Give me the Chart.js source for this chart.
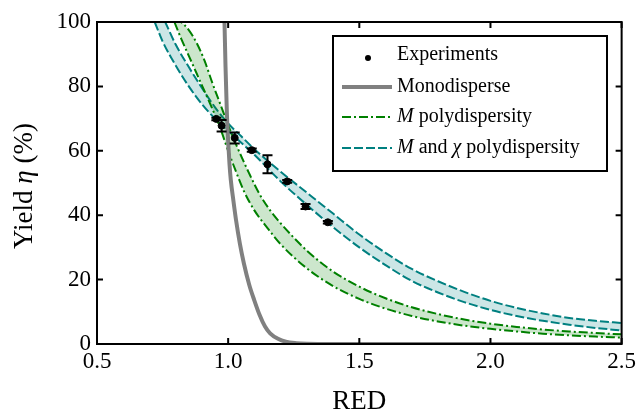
<!DOCTYPE html>
<html>
<head>
<meta charset="utf-8">
<script src="https://cdn.jsdelivr.net/npm/chart.js@4.4.0/dist/chart.umd.min.js"></script>
<style>
  html, body { margin: 0; padding: 0; background: #fff; }
  #wrap { width: 640px; height: 418px; }
</style>
</head>
<body>
<div id="wrap"><canvas id="chartYield"></canvas></div>
<script>
// experiments
const expRED   = [0.955, 0.975, 1.025, 1.09, 1.15, 1.225, 1.295, 1.38];
const expYield = [69.9, 67.8, 64.0, 60.2, 55.8, 50.5, 42.7, 37.8];
const expErr   = [0.4, 1.8, 1.7, 0.5, 2.8, 0.4, 0.8, 0.4];

// monodisperse model
const monoRED   = [0.986, 0.99, 0.995, 1.0, 1.005, 1.01, 1.02, 1.03, 1.045, 1.06, 1.08, 1.1, 1.12, 1.14, 1.16, 1.19, 1.22, 1.26, 1.3, 1.4, 2.5];
const monoYield = [100, 86, 72, 63, 56, 51, 44.5, 38.5, 31, 25, 18.5, 13.5, 9, 5.5, 3.3, 1.6, 0.7, 0.25, 0.08, 0, 0];

// M polydispersity band
const mUpRED    = [0.795, 0.82, 0.85, 0.88, 0.91, 0.94, 0.97, 1.0, 1.03, 1.08, 1.12, 1.16, 1.2, 1.3, 1.4, 1.5, 1.6, 1.7, 1.8, 1.9, 2.0, 2.1, 2.2, 2.3, 2.4, 2.5];
const mUpYield  = [101, 100, 97.5, 93.5, 88, 81, 74.5, 68, 62, 53, 46.5, 41.5, 37.5, 29, 22.5, 17.8, 14.2, 11.4, 9.3, 7.6, 6.3, 5.3, 4.5, 3.9, 3.4, 3.0];
const mLoRED    = [0.795, 0.82, 0.85, 0.88, 0.91, 0.94, 0.97, 1.0, 1.03, 1.06, 1.1, 1.15, 1.2, 1.3, 1.4, 1.5, 1.6, 1.7, 1.8, 1.9, 2.0, 2.1, 2.2, 2.3, 2.4, 2.5];
const mLoYield  = [100, 95, 89.5, 84, 78.5, 73, 67, 60, 53.5, 47.5, 41.5, 36, 31, 23.5, 18, 14, 11, 8.7, 7, 5.7, 4.7, 3.9, 3.2, 2.7, 2.3, 2.0];

// M and chi polydispersity band
const mcUpRED   = [0.72, 0.76, 0.80, 0.85, 0.90, 0.95, 1.0, 1.05, 1.1, 1.2, 1.3, 1.4, 1.5, 1.6, 1.7, 1.8, 1.9, 2.0, 2.1, 2.2, 2.3, 2.4, 2.5];
const mcUpYield = [107, 100, 93, 86, 79.5, 73.5, 68.5, 64.5, 60.5, 53.5, 47, 40.5, 34, 28.3, 23.3, 19.5, 16.2, 13.4, 11.2, 9.5, 8.1, 7.2, 6.5];
const mcLoRED   = [0.72, 0.75, 0.80, 0.85, 0.90, 0.95, 1.0, 1.05, 1.1, 1.2, 1.3, 1.4, 1.5, 1.6, 1.7, 1.8, 1.9, 2.0, 2.1, 2.2, 2.3, 2.4, 2.5];
const mcLoYield = [100, 94, 86.5, 80, 74.5, 70, 66.2, 62.5, 58.8, 50.5, 43.2, 36.3, 30, 24.5, 19.6, 16, 13, 10.6, 8.7, 7.2, 6.0, 5.0, 4.2];

const xTickValues = [0.5, 1.0, 1.5, 2.0, 2.5];
const yTickValues = [0, 20, 40, 60, 80, 100];

const pts = (xs, ys) => xs.map((x, i) => ({x: x, y: ys[i]}));
const SERIF = '"Liberation Serif", "DejaVu Serif", serif';
const GREEN = '#008000', TEAL = '#008080', GRAY = '#808080';
const DASHDOT = [9, 3, 2, 3];
const DASH = [9, 3];

const lineDs = (data, color, dash, width, fill, fillColor) => ({
  data: data, showLine: true, borderColor: color, borderWidth: width, borderDash: dash,
  pointRadius: 0, cubicInterpolationMode: 'monotone', fill: fill, backgroundColor: fillColor
});

// error bars drawn through the scales
const errorBars = {
  id: 'errorBars',
  afterDatasetsDraw(chart) {
    const {ctx, scales: {x, y}} = chart;
    ctx.save();
    ctx.strokeStyle = '#000';
    ctx.lineWidth = 2;
    expRED.forEach((r, i) => {
      const px = x.getPixelForValue(r);
      const top = y.getPixelForValue(expYield[i] + expErr[i]);
      const bot = y.getPixelForValue(expYield[i] - expErr[i]);
      ctx.beginPath();
      ctx.moveTo(px, top); ctx.lineTo(px, bot);
      ctx.moveTo(px - 5, top); ctx.lineTo(px + 5, top);
      ctx.moveTo(px - 5, bot); ctx.lineTo(px + 5, bot);
      ctx.stroke();
    });
    ctx.restore();
  }
};

// box frame with inward ticks on all sides
const frame = {
  id: 'frame',
  afterDatasetsDraw(chart) {
    const {ctx, chartArea: a, scales: {x, y}} = chart;
    ctx.save();
    ctx.strokeStyle = '#000';
    ctx.lineWidth = 2;
    ctx.beginPath();
    x.ticks.forEach(t => {
      const p = x.getPixelForValue(t.value);
      ctx.moveTo(p, a.bottom); ctx.lineTo(p, a.bottom - 6);
      ctx.moveTo(p, a.top); ctx.lineTo(p, a.top + 6);
    });
    y.ticks.forEach(t => {
      const p = y.getPixelForValue(t.value);
      ctx.moveTo(a.left, p); ctx.lineTo(a.left + 6, p);
      ctx.moveTo(a.right, p); ctx.lineTo(a.right - 6, p);
    });
    ctx.stroke();
    ctx.strokeRect(a.left, a.top, a.right - a.left, a.bottom - a.top);
    ctx.restore();
  }
};

function drawRuns(ctx, runs, x, y, size) {
  runs.forEach(r => {
    ctx.font = (r[1] ? 'italic ' : '') + size + 'px ' + SERIF;
    ctx.fillText(r[0], x, y);
    x += ctx.measureText(r[0]).width;
  });
  return x;
}

const legendBox = {
  id: 'legendBox',
  afterDraw(chart) {
    const ctx = chart.ctx;
    ctx.save();
    // y axis title with italic eta
    ctx.fillStyle = '#000';
    ctx.textBaseline = 'middle';
    ctx.translate(25, 186);
    ctx.rotate(-Math.PI / 2);
    const yTitle = [['Yield ', false], ['η', true], [' (%)', false]];
    let w = 0;
    yTitle.forEach(r => { ctx.font = (r[1] ? 'italic ' : '') + '27px ' + SERIF; w += ctx.measureText(r[0]).width; });
    drawRuns(ctx, yTitle, -w / 2, 0, 27);
    ctx.restore();

    ctx.save();
    const L = 333, T = 36, R = 607, B = 171;
    ctx.fillStyle = '#fff';
    ctx.fillRect(L, T, R - L, B - T);
    ctx.strokeStyle = '#000';
    ctx.lineWidth = 2;
    ctx.strokeRect(L, T, R - L, B - T);
    const rows = [55, 87, 117, 148];
    const sx0 = 342, sx1 = 392, tx = 397;
    // experiments dot
    ctx.fillStyle = '#000';
    ctx.beginPath(); ctx.arc(368, rows[0] + 3, 3, 0, Math.PI * 2); ctx.fill();
    const seg = (yy, color, dash, width) => {
      ctx.strokeStyle = color; ctx.lineWidth = width; ctx.setLineDash(dash);
      ctx.beginPath(); ctx.moveTo(sx0, yy); ctx.lineTo(sx1, yy); ctx.stroke();
    };
    seg(rows[1], GRAY, [], 4);
    seg(rows[2], GREEN, DASHDOT, 2);
    seg(rows[3], TEAL, DASH, 2);
    ctx.setLineDash([]);
    ctx.fillStyle = '#000';
    ctx.textBaseline = 'middle';
    drawRuns(ctx, [['Experiments', false]], tx, rows[0], 20);
    drawRuns(ctx, [['Monodisperse', false]], tx, rows[1], 20);
    drawRuns(ctx, [['M', true], [' polydispersity', false]], tx, rows[2], 20);
    drawRuns(ctx, [['M', true], [' and ', false], ['χ', true], [' polydispersity', false]], tx, rows[3], 20);
    ctx.restore();
  }
};

new Chart(document.getElementById('chartYield'), {
  type: 'scatter',
  data: {
    datasets: [
      { label: 'Experiments', data: pts(expRED, expYield), pointRadius: 3.5, pointBackgroundColor: '#000', pointBorderColor: '#000', showLine: false },
      lineDs(pts(monoRED, monoYield), GRAY, [], 4, false),
      lineDs(pts(mUpRED, mUpYield), GREEN, DASHDOT, 2, '+1', 'rgba(0,128,0,0.2)'),
      lineDs(pts(mLoRED, mLoYield), GREEN, DASHDOT, 2, false),
      lineDs(pts(mcUpRED, mcUpYield), TEAL, DASH, 2, '+1', 'rgba(0,128,128,0.2)'),
      lineDs(pts(mcLoRED, mcLoYield), TEAL, DASH, 2, false)
    ]
  },
  options: {
    responsive: true,
    maintainAspectRatio: false,
    animation: false,
    layout: { padding: { top: 22, right: 17, left: 0, bottom: 0 } },
    plugins: { legend: { display: false }, tooltip: { enabled: false } },
    scales: {
      x: {
        type: 'linear', min: 0.5, max: 2.5,
        afterBuildTicks: s => { s.ticks = xTickValues.map(v => ({value: v})); },
        afterFit: s => { s.height = 74; },
        ticks: { callback: v => v.toFixed(1), color: '#000', padding: 4, maxRotation: 0,
                 font: { family: SERIF, size: 23 } },
        grid: { display: false, drawTicks: false },
        border: { display: false },
        title: { display: true, text: 'RED', color: '#000', padding: { top: 0, bottom: 0 },
                 font: { family: SERIF, size: 27 } }
      },
      y: {
        min: 0, max: 100,
        afterBuildTicks: s => { s.ticks = yTickValues.map(v => ({value: v})); },
        afterFit: s => { s.width = 97; },
        ticks: { color: '#000', padding: 6, font: { family: SERIF, size: 23 } },
        grid: { display: false, drawTicks: false },
        border: { display: false }
      }
    }
  },
  plugins: [errorBars, frame, legendBox]
});
</script>
</body>
</html>
